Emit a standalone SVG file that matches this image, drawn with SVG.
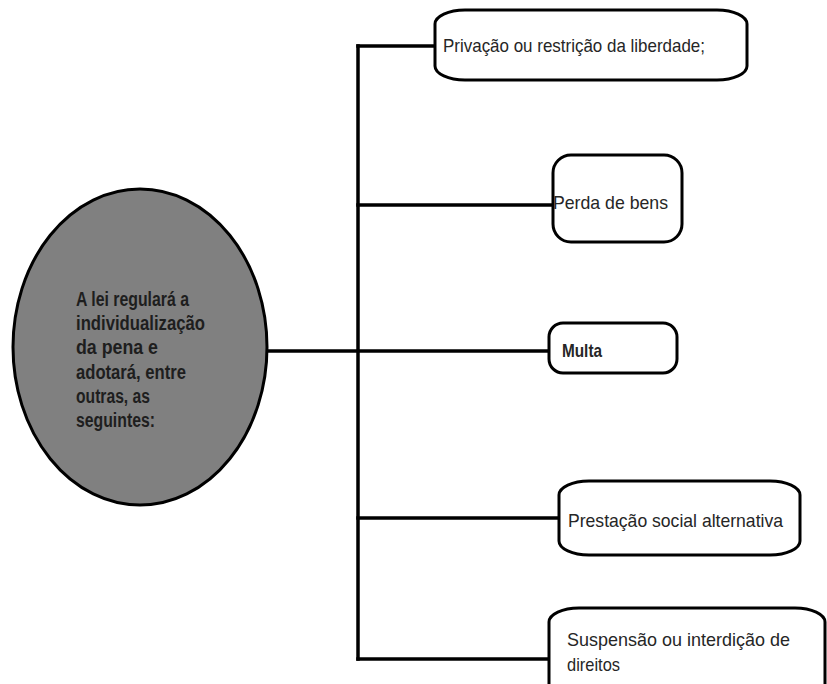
<svg xmlns="http://www.w3.org/2000/svg" width="827" height="684" viewBox="0 0 827 684">
<style>
.box{fill:#fff;stroke:#000;stroke-width:3}
.ln{fill:none;stroke:#000;stroke-width:3.5;stroke-linecap:square}
.t{font-family:"Liberation Sans",Arial,sans-serif;font-size:19px;fill:#262626}
.c{font-family:"Liberation Sans",Arial,sans-serif;font-size:20px;font-weight:bold;fill:#1e1e1e}
</style>
<rect width="827" height="684" fill="#fff"/>
<g id="connectors">
<path class="ln" d="M358,46 V659"/>
<path class="ln" d="M358,46 H435"/>
<path class="ln" d="M358,205 H553"/>
<path class="ln" d="M267,351 H549"/>
<path class="ln" d="M358,518 H559"/>
<path class="ln" d="M358,659 H549"/>
</g>
<g id="center">
<ellipse cx="140" cy="347" rx="127" ry="158" fill="#808080" stroke="#000" stroke-width="3"/>
<text class="c" x="76" y="306" textLength="113" lengthAdjust="spacingAndGlyphs">A lei regulará a</text>
<text class="c" x="76" y="330" textLength="129" lengthAdjust="spacingAndGlyphs">individualização</text>
<text class="c" x="76" y="354" textLength="82" lengthAdjust="spacingAndGlyphs">da pena e</text>
<text class="c" x="76" y="379" textLength="110" lengthAdjust="spacingAndGlyphs">adotará, entre</text>
<text class="c" x="76" y="403" textLength="74" lengthAdjust="spacingAndGlyphs">outras, as</text>
<text class="c" x="76" y="427" textLength="79" lengthAdjust="spacingAndGlyphs">seguintes:</text>
</g>
<g id="n1">
<rect class="box" x="435" y="10" width="312" height="70" rx="30" ry="14"/>
<text class="t" x="443" y="52" textLength="262" lengthAdjust="spacingAndGlyphs">Privação ou restrição da liberdade;</text>
</g>
<g id="n2">
<rect class="box" x="553" y="155" width="129" height="87" rx="18" ry="18"/>
<text class="t" x="553" y="209" textLength="115" lengthAdjust="spacingAndGlyphs">Perda de bens</text>
</g>
<g id="n3">
<rect class="box" x="549" y="323" width="128" height="50" rx="14" ry="14"/>
<text class="t" x="562" y="357" textLength="40" lengthAdjust="spacingAndGlyphs" font-weight="bold">Multa</text>
</g>
<g id="n4">
<rect class="box" x="559" y="481" width="241" height="74" rx="30" ry="14"/>
<text class="t" x="568" y="527" textLength="215" lengthAdjust="spacingAndGlyphs">Prestação social alternativa</text>
</g>
<g id="n5">
<rect class="box" x="549" y="608" width="276" height="90" rx="30" ry="14"/>
<text class="t" x="567" y="646" textLength="223" lengthAdjust="spacingAndGlyphs">Suspensão ou interdição de</text>
<text class="t" x="567" y="671" textLength="53" lengthAdjust="spacingAndGlyphs">direitos</text>
</g>
</svg>
